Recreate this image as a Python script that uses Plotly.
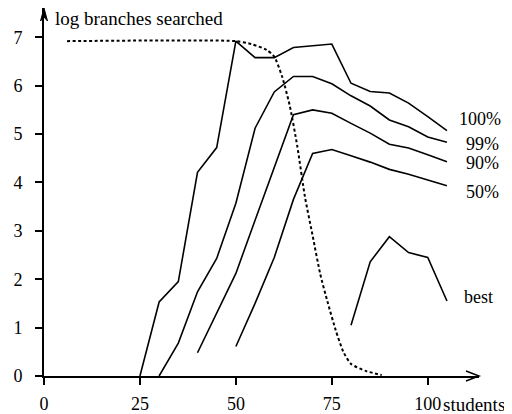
import plotly.graph_objects as go

# ---- data ----
x100 = [25, 30, 35, 40, 45, 50, 55, 60, 65, 70, 75, 80, 85, 90, 95, 100, 105]
y100 = [0, 1.53, 1.95, 4.21, 4.72, 6.92, 6.58, 6.58, 6.79, 6.83, 6.86, 6.05, 5.88, 5.85, 5.64, 5.36, 5.07]

x99 = [30, 35, 40, 45, 50, 55, 60, 65, 70, 75, 80, 85, 90, 95, 100, 105]
y99 = [0, 0.68, 1.74, 2.43, 3.57, 5.12, 5.87, 6.19, 6.19, 6.04, 5.79, 5.58, 5.29, 5.15, 4.94, 4.83]

x90 = [40, 45, 50, 55, 60, 65, 70, 75, 80, 85, 90, 95, 100, 105]
y90 = [0.48, 1.30, 2.12, 3.22, 4.30, 5.40, 5.50, 5.43, 5.22, 5.02, 4.79, 4.71, 4.57, 4.43]

x50 = [50, 55, 60, 65, 70, 75, 80, 85, 90, 95, 100, 105]
y50 = [0.61, 1.50, 2.45, 3.65, 4.60, 4.68, 4.55, 4.42, 4.27, 4.17, 4.05, 3.93]

xbest = [80, 85, 90, 95, 100, 105]
ybest = [1.05, 2.36, 2.88, 2.55, 2.45, 1.55]

xdash = [6, 50, 54, 58, 60, 62, 64, 66, 68, 70, 72, 74, 76, 78, 80, 84, 88]
ydash = [6.92, 6.92, 6.86, 6.74, 6.60, 6.20, 5.60, 4.75, 3.70, 2.90, 2.10, 1.50, 0.95, 0.50, 0.25, 0.10, 0.02]

series_labels = ["100%", "99%", "90%", "50%", "best"]
label_x = [107.6, 109.4, 109.4, 109.4, 108.9]
label_y = [5.31, 4.79, 4.40, 3.80, 1.63]

x_ticks = [0, 25, 50, 75, 100]
y_ticks = [0, 1, 2, 3, 4, 5, 6, 7]

FONT = "Liberation Serif, Times New Roman, serif"

# page body keeps its default 8px margin, so the figure is drawn 8px in from the corner
OFF = 8
W, H = 512 - OFF, 414 - OFF
PL, PR, PT, PB = 43.5 - OFF, 479 - OFF, 8 - OFF, 376 - OFF   # plot area in figure pixels
PW, PH = PR - PL, PB - PT

fig = go.Figure()

line = dict(color="black", width=1.6)
for xs, ys in [(x100, y100), (x99, y99), (x90, y90), (x50, y50), (xbest, ybest)]:
    fig.add_trace(go.Scatter(x=xs, y=ys, mode="lines", line=line, showlegend=False))

fig.add_trace(go.Scatter(x=xdash, y=ydash, mode="lines",
                         line=dict(color="black", width=2, dash="3px,2.5px", shape="spline", smoothing=0.6),
                         showlegend=False))

for t, lx, ly in zip(series_labels, label_x, label_y):
    fig.add_annotation(x=lx, y=ly, text=t, showarrow=False, xanchor="left", yanchor="middle",
                       font=dict(family=FONT, size=18, color="black"))

fig.add_annotation(xref="paper", yref="paper", x=(53 - OFF - PL) / PW, y=1 - (19 - OFF - PT) / PH,
                   text="log branches searched", showarrow=False, xanchor="left", yanchor="middle",
                   font=dict(family=FONT, size=19, color="black"))
fig.add_annotation(xref="paper", yref="paper", x=(441 - OFF - PL) / PW, y=-(404 - OFF - PB) / PH,
                   text="students", showarrow=False, xanchor="left", yanchor="middle",
                   font=dict(family=FONT, size=19, color="black"))

# axis arrowheads
fig.add_shape(type="path", xref="paper", yref="paper", xsizemode="pixel", ysizemode="pixel",
              xanchor=1, yanchor=0, path="M -13,5 L 0,0 L -13,-5",
              line=dict(color="black", width=1.5))
fig.add_shape(type="path", xref="paper", yref="paper", xsizemode="pixel", ysizemode="pixel",
              xanchor=0, yanchor=1, path="M -3.5,-13 L 0,0 L 3.5,-13 L 0,-9 Z",
              line=dict(color="black", width=1), fillcolor="black")

fig.update_layout(
    width=W, height=H,
    margin=dict(l=PL, r=W - PR, t=PT, b=H - PB, pad=0),
    paper_bgcolor="white", plot_bgcolor="white",
    font=dict(family=FONT, size=18, color="black"),
    xaxis=dict(range=[0, PW / 3.842], tickvals=x_ticks, ticktext=[str(v) for v in x_ticks],
               showline=True, linecolor="black", linewidth=1.6, ticks="outside", ticklen=7,
               tickwidth=1.6, tickcolor="black", showgrid=False, zeroline=False,
               ticklabelstandoff=4, automargin=False,
               tickfont=dict(family=FONT, size=18, color="black")),
    yaxis=dict(range=[0, PH / 48.39], tickvals=y_ticks, ticktext=[str(v) for v in y_ticks],
               showline=True, linecolor="black", linewidth=1.6, ticks="outside", ticklen=7,
               tickwidth=1.6, tickcolor="black", showgrid=False, zeroline=False,
               ticklabelstandoff=9, automargin=False,
               tickfont=dict(family=FONT, size=18, color="black")),
)

fig.write_html("out.html")
